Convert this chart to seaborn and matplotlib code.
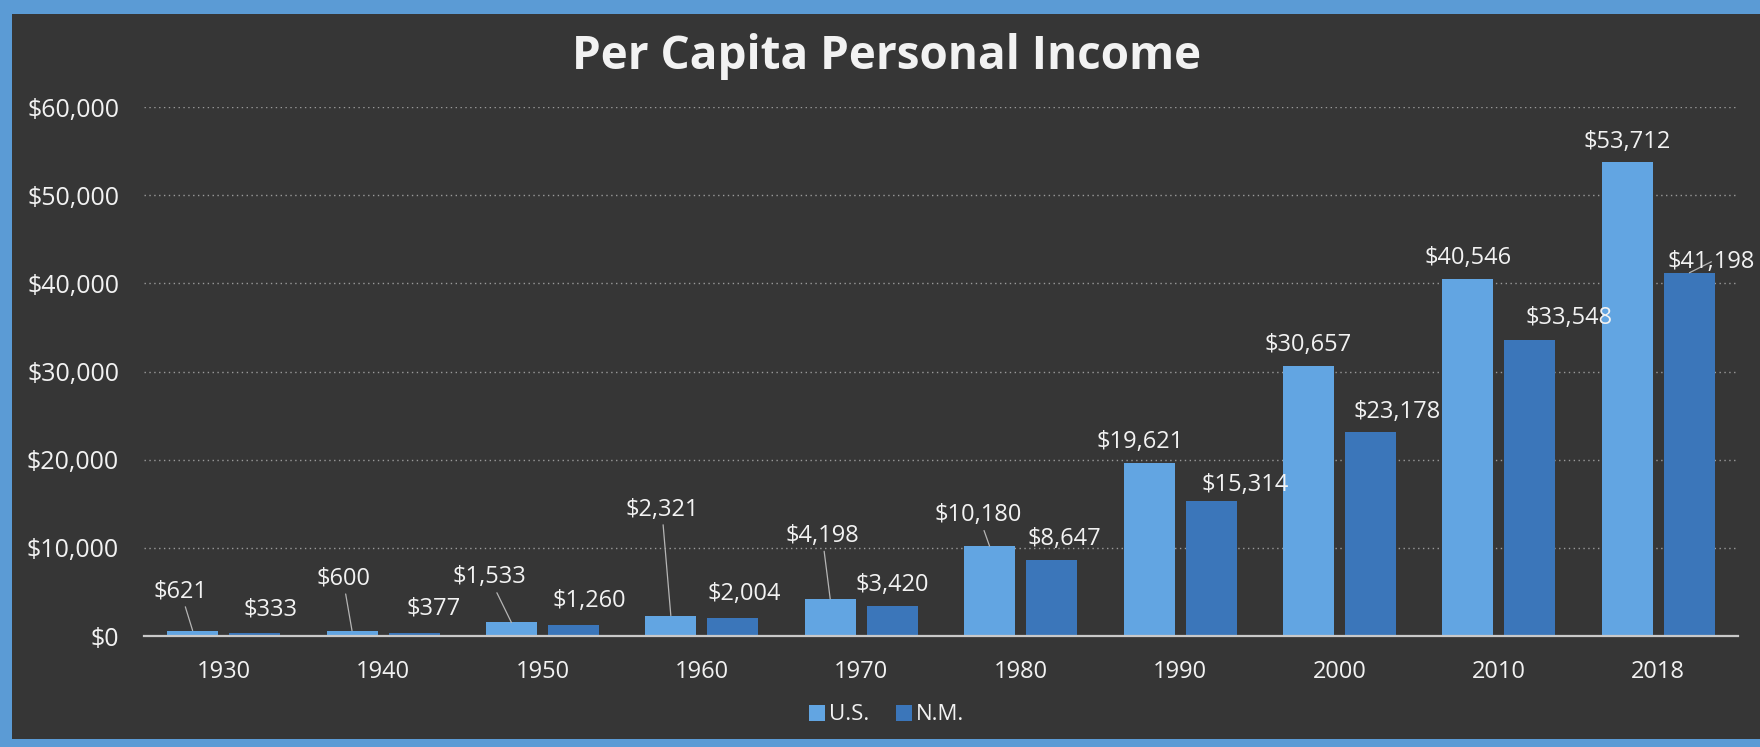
import pandas as pd
import matplotlib
matplotlib.use("Agg")
import matplotlib.pyplot as plt
import matplotlib.patches as mpatches
import seaborn as sns

years = ["1930", "1940", "1950", "1960", "1970", "1980", "1990", "2000", "2010", "2018"]
us_income = [621, 600, 1533, 2321, 4198, 10180, 19621, 30657, 40546, 53712]
nm_income = [333, 377, 1260, 2004, 3420, 8647, 15314, 23178, 33548, 41198]
regions = ["U.S.", "N.M."]
y_ticks = [0, 10000, 20000, 30000, 40000, 50000, 60000]

# label offsets from bar top (pixels, up is positive) and whether a leader line is drawn
us_offsets = [(-12, 39), (-9, 52), (-22, 45), (-9, 106), (-8, 63),
              (-11, 31), (-9, 21), (0, 21), (0, 21), (0, 20)]
nm_offsets = [(16, 24), (19, 24), (16, 24), (11, 24), (0, 21),
              (13, 21), (34, 16), (27, 20), (39, 22), (22, 11)]
us_leaders = [True, True, True, True, True, True, False, False, False, False]
nm_leaders = [False] * 9 + [True]

BG = "#363636"
BORDER = "#5b9bd5"
US_COL = "#62a5e2"
NM_COL = "#3b76ba"
TXT = "#f2f2f2"

df = pd.DataFrame({
    "year": years * 2,
    "income": us_income + nm_income,
    "region": [regions[0]] * len(years) + [regions[1]] * len(years),
})

sns.set_style("dark")
plt.rcParams["font.family"] = ["Open Sans", "DejaVu Sans"]

fig = plt.figure(figsize=(17.6, 7.47), dpi=100)
fig.patch.set_facecolor(BORDER)
panel = mpatches.Rectangle((12 / 1760, 8 / 747), 1 - 12 / 1760, 1 - 22 / 747,
                           transform=fig.transFigure, facecolor=BG,
                           edgecolor="none", zorder=-5)
fig.patches.append(panel)

ax = fig.add_axes([144 / 1760, 1 - 636 / 747, (1738 - 144) / 1760, (636 - 107) / 747])
ax.set_facecolor("none")

sns.barplot(data=df, x="year", y="income", hue="region",
            palette=[US_COL, NM_COL], width=0.78, gap=0.18,
            saturation=1, legend=False, ax=ax, zorder=3, edgecolor="none")

ax.set_ylim(0, 60000)
ax.set_yticks(y_ticks)
ax.set_yticklabels([f"${v:,}" for v in y_ticks])
ax.set_xlabel("")
ax.set_ylabel("")
ax.tick_params(axis="y", length=0, pad=18, labelsize=18, labelcolor=TXT)
ax.tick_params(axis="x", length=0, pad=17, labelsize=17, labelcolor=TXT)
ax.grid(axis="y", linestyle=(0, (1, 2.5)), color="#9a9a9a", linewidth=1.0, zorder=1)
ax.grid(axis="x", visible=False)
for side in ["top", "right", "left"]:
    ax.spines[side].set_visible(False)
ax.spines["bottom"].set_color("#c9c9c9")
ax.spines["bottom"].set_linewidth(1.6)
ax.spines["bottom"].set_zorder(4)

for container, offsets, leaders in zip(ax.containers, [us_offsets, nm_offsets],
                                       [us_leaders, nm_leaders]):
    for bar, (dx, dy), lead in zip(container, offsets, leaders):
        x = bar.get_x() + bar.get_width() / 2
        h = bar.get_height()
        props = None
        if lead:
            props = dict(arrowstyle="-", color="#b5b5b5", lw=0.9,
                         shrinkA=0, shrinkB=0)
        ax.annotate(f"${h:,.0f}", xy=(x, h), xytext=(dx, dy),
                    textcoords="offset pixels", ha="center", va="center",
                    fontsize=17, color=TXT, arrowprops=props,
                    annotation_clip=False, zorder=5)

fig.text(887 / 1760, 1 - 56 / 747, "Per Capita Personal Income",
         ha="center", va="center", fontsize=33, fontweight="bold", color=TXT)

handles = [mpatches.Patch(facecolor=US_COL, edgecolor="none", label=regions[0]),
           mpatches.Patch(facecolor=NM_COL, edgecolor="none", label=regions[1])]
fig.legend(handles=handles, loc="center", bbox_to_anchor=(887 / 1760, 1 - 715 / 747),
           ncol=2, frameon=False, fontsize=16, labelcolor=TXT,
           handlelength=0.7, handleheight=0.7, handletextpad=0.2, columnspacing=1.2)

fig.savefig("out.png", dpi=100, facecolor=fig.get_facecolor())
